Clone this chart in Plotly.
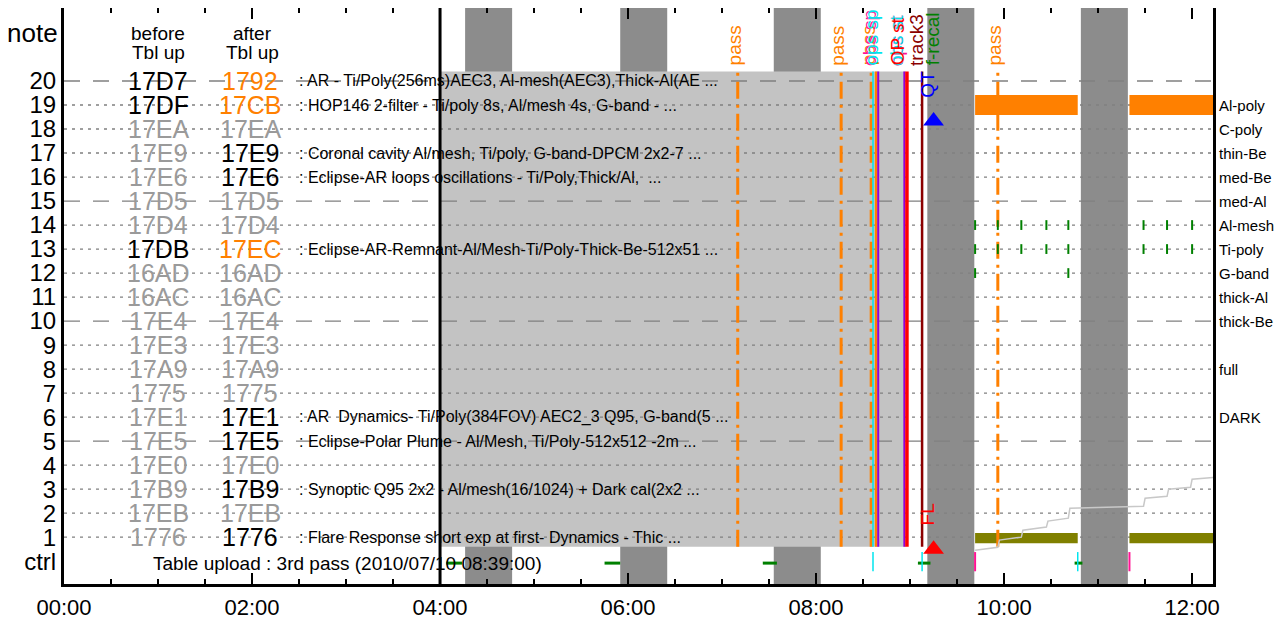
import plotly.graph_objects as go

DAY = "2010-07-10"


def ts(hm):
    if hm.count(":") == 1:
        hm = hm + ":00"
    return f"{DAY} {hm}"


# ---------------- data ----------------
x_range = ["00:00", "12:13:20"]
x_tick_times = ["00:00", "02:00", "04:00", "06:00", "08:00", "10:00", "12:00"]
y_range = [-0.95, 23.04]

rows = list(range(1, 21))
row_labels = ["ctrl"] + [str(r) for r in rows]

before_codes = ["1776", "17EB", "17B9", "17E0", "17E5", "17E1", "1775", "17A9", "17E3", "17E4",
                "16AC", "16AD", "17DB", "17D4", "17D5", "17E6", "17E9", "17EA", "17DF", "17D7"]
before_state = ["off", "off", "off", "off", "off", "off", "off", "off", "off", "off",
                "off", "off", "on", "off", "off", "off", "off", "off", "on", "on"]
after_codes = ["1776", "17EB", "17B9", "17E0", "17E5", "17E1", "1775", "17A9", "17E3", "17E4",
               "16AC", "16AD", "17EC", "17D4", "17D5", "17E6", "17E9", "17EA", "17CB", "1792"]
after_state = ["on", "off", "on", "off", "on", "on", "off", "off", "off", "off",
               "off", "off", "new", "off", "off", "on", "on", "off", "new", "new"]

header_before = ["before", "Tbl up"]
header_after = ["after", "Tbl up"]

desc_rows = [20, 19, 17, 16, 13, 6, 5, 3, 1]
desc_text = [
    ": AR - Ti/Poly(256ms)AEC3, Al-mesh(AEC3),Thick-Al(AE ...",
    ": HOP146 2-filter - Ti/poly 8s, Al/mesh 4s, G-band - ...",
    ": Coronal cavity Al/mesh, Ti/poly, G-band-DPCM 2x2-7 ...",
    ": Eclipse-AR loops oscillations - Ti/Poly,Thick/Al,  ...",
    ": Eclipse-AR-Remnant-Al/Mesh-Ti/Poly-Thick-Be-512x51 ...",
    ": AR  Dynamics- Ti/Poly(384FOV) AEC2_3 Q95, G-band(5 ...",
    ": Eclipse-Polar Plume - Al/Mesh, Ti/Poly-512x512 -2m ...",
    ": Synoptic Q95 2x2 - Al/mesh(16/1024) + Dark cal(2x2 ...",
    ": Flare Response short exp at first- Dynamics - Thic ...",
]

filter_rows = [19, 18, 17, 16, 15, 14, 13, 12, 11, 10, 8, 6]
filter_names = ["Al-poly", "C-poly", "thin-Be", "med-Be", "med-Al", "Al-mesh", "Ti-poly",
                "G-band", "thick-Al", "thick-Be", "full", "DARK"]

ctrl_text = "Table upload : 3rd pass (2010/07/10 08:39:00)"

# orbit night bands
night_start = ["04:16", "05:55", "07:33", "09:11", "10:49"]
night_end = ["04:46", "06:25", "08:03", "09:41", "11:19"]

# observation-plan period box
plan_start, plan_end = "04:00", "08:57"
plan_row_lo, plan_row_hi = 0.6, 20.4

upload_time = "04:00"

pass_times = ["07:10", "08:16", "08:35:10", "09:56"]

event_times = ["08:36:20", "08:38:20", "08:39:40", "08:56:20", "08:58:00", "09:07:40"]
event_kind = ["cyan", "upload", "purple", "purple", "red", "track"]

label_times = ["07:08", "08:14", "08:33:30", "08:34:30", "08:35:30",
               "08:51:00", "08:51:30", "08:52:00", "09:04:30", "09:14:00", "09:54"]
label_text = ["pass", "pass", "pass", "obs sp", "ops sp",
              "ops st", "obs st", "OP st", "track3", "f-recal", "pass"]
label_kind = ["pass", "pass", "pass", "magenta", "cyan",
              "magenta", "cyan", "red", "track", "green", "pass"]

qt_time, qt_row = "09:11:30", 19.2
fl_time, fl_row = "09:11:00", 1.42

alpoly_start = ["09:41:30", "11:20"]
alpoly_end = ["10:47", "12:13:20"]

tri_red = ("09:15", 0.5)
tri_blue = ("09:15", 18.33)

greentick_times = ["09:41:30", "09:56", "10:11", "10:27", "10:41", "11:29", "11:44", "12:00"]
greentick_rows_full = [14, 13]
greentick_times_g = ["09:41:30", "10:41"]
greentick_row_g = 12

ctrl_dash_start = ["04:04", "05:45", "07:26", "09:05", "10:45"]
ctrl_dash_end = ["04:14", "05:55", "07:35", "09:13", "10:50"]
ctrl_cyan = ["08:36:20", "09:07:40", "10:47"]
ctrl_pink = ["09:41:30", "11:20"]

step_times = ["09:41:30", "09:56", "09:57", "10:11", "10:12", "10:27", "10:28", "10:41",
              "10:42", "11:29", "11:30", "11:44", "11:45", "11:59", "12:00", "12:13:20"]
step_vals = [0.46, 0.58, 0.88, 1.0, 1.29, 1.42, 1.67, 1.79,
             2.21, 2.29, 2.62, 2.70, 3.0, 3.08, 3.41, 3.49]

# ---------------- styles ----------------
FONT = "Liberation Sans, Arial, Helvetica, sans-serif"
ORANGE = "#ff8000"
GREEN = "#008000"
state_color = {"on": "black", "off": "#9a9a9a", "new": ORANGE}
kind_color = {"pass": ORANGE, "cyan": "#00e5ee", "upload": ORANGE, "purple": "#9400d3",
              "red": "#ff0000", "track": "#8b0000", "magenta": "#ff1493", "green": GREEN}
kind_width = {"cyan": 1.5, "upload": 2.5, "purple": 2, "red": 3.5, "track": 2.5}

X0, X1 = ts(x_range[0]), ts(x_range[1])
Y0, Y1 = y_range

# all shapes reference the data axes so they are stacked in this exact order
shapes = []
for s, e in zip(night_start, night_end):
    shapes.append(dict(type="rect", xref="x", yref="y", x0=ts(s), x1=ts(e), y0=Y0, y1=Y1,
                       fillcolor="#8c8c8c", line=dict(width=0), layer="below"))
shapes.append(dict(type="rect", xref="x", yref="y", x0=ts(plan_start), x1=ts(plan_end),
                   y0=plan_row_lo, y1=plan_row_hi, fillcolor="#c3c3c3", line=dict(width=0),
                   layer="below"))
for r in rows:
    dash = "16px,13px" if r % 5 == 0 else "3px,5px"
    shapes.append(dict(type="line", xref="x", yref="y", x0=X0, x1=X1, y0=r, y1=r,
                       line=dict(color="#808080", width=1.3, dash=dash), layer="below"))
for s, e in zip(alpoly_start, alpoly_end):
    shapes.append(dict(type="rect", xref="x", yref="y", x0=ts(s), x1=ts(e), y0=18.58, y1=19.42,
                       fillcolor=ORANGE, line=dict(width=0), layer="below"))
    shapes.append(dict(type="rect", xref="x", yref="y", x0=ts(s), x1=ts(e), y0=0.75, y1=1.17,
                       fillcolor="#808000", line=dict(width=0), layer="below"))
shapes.append(dict(type="line", xref="x", yref="y", x0=ts(upload_time), x1=ts(upload_time),
                   y0=Y0, y1=Y1, line=dict(color="black", width=3), layer="below"))
for t in pass_times:
    shapes.append(dict(type="line", xref="x", yref="y", x0=ts(t), x1=ts(t),
                       y0=plan_row_lo, y1=plan_row_hi,
                       line=dict(color=ORANGE, width=3, dash="17px,6px,3px,6px"), layer="below"))
for t, k in zip(event_times, event_kind):
    shapes.append(dict(type="line", xref="x", yref="y", x0=ts(t), x1=ts(t),
                       y0=plan_row_lo, y1=plan_row_hi,
                       line=dict(color=kind_color[k], width=kind_width[k]), layer="below"))
for s, e in zip(ctrl_dash_start, ctrl_dash_end):
    shapes.append(dict(type="line", xref="x", yref="y", x0=ts(s), x1=ts(e), y0=-0.08, y1=-0.08,
                       line=dict(color=GREEN, width=3), layer="below"))
for t in ctrl_cyan:
    shapes.append(dict(type="line", xref="x", yref="y", x0=ts(t), x1=ts(t), y0=-0.42, y1=0.38,
                       line=dict(color="#00e5ee", width=1.5), layer="below"))
for t in ctrl_pink:
    shapes.append(dict(type="line", xref="x", yref="y", x0=ts(t), x1=ts(t), y0=-0.42, y1=0.38,
                       line=dict(color="#ff1493", width=2), layer="below"))

fig = go.Figure()

fig.add_trace(go.Scatter(x=[ts(t) for t in step_times], y=step_vals, mode="lines",
                         line=dict(color="#c8c8c8", width=1.5), hoverinfo="skip"))
gx, gy = [], []
for r in greentick_rows_full:
    for t in greentick_times:
        gx.append(ts(t))
        gy.append(r)
for t in greentick_times_g:
    gx.append(ts(t))
    gy.append(greentick_row_g)
fig.add_trace(go.Scatter(x=gx, y=gy, mode="markers",
                         marker=dict(symbol="line-ns-open", size=7, color=GREEN,
                                     line=dict(color=GREEN, width=2)), hoverinfo="skip"))
fig.add_trace(go.Scatter(x=[ts(tri_red[0])], y=[tri_red[1]], mode="markers",
                         marker=dict(symbol="triangle-up", size=18, color="#ff0000"),
                         hoverinfo="skip"))
fig.add_trace(go.Scatter(x=[ts(tri_blue[0])], y=[tri_blue[1]], mode="markers",
                         marker=dict(symbol="triangle-up", size=18, color="#0000ff"),
                         hoverinfo="skip"))

ann = []
for r, code, st in zip(rows, before_codes, before_state):
    ann.append(dict(x=ts("01:00"), y=r, text=code, showarrow=False, xanchor="center",
                    yanchor="middle", font=dict(size=25, color=state_color[st])))
for r, code, st in zip(rows, after_codes, after_state):
    ann.append(dict(x=ts("01:59"), y=r, text=code, showarrow=False, xanchor="center",
                    yanchor="middle", font=dict(size=25, color=state_color[st])))
for txt, yy in zip(header_before, [21.96, 21.17]):
    ann.append(dict(x=ts("01:00"), y=yy, text=txt, showarrow=False,
                    font=dict(size=19), xanchor="center", yanchor="middle"))
for txt, yy in zip(header_after, [21.96, 21.17]):
    ann.append(dict(x=ts("02:00"), y=yy, text=txt, showarrow=False,
                    font=dict(size=19), xanchor="center", yanchor="middle"))
for r, txt in zip(desc_rows, desc_text):
    ann.append(dict(x=ts("02:28:30"), y=r, text=txt.replace("  ", "&nbsp; "), showarrow=False,
                    xanchor="left", yanchor="middle", font=dict(size=16)))
for r, txt in zip(filter_rows, filter_names):
    ann.append(dict(xref="paper", x=1.0, xshift=4, y=r, text=txt, showarrow=False,
                    xanchor="left", yanchor="middle", font=dict(size=15)))
ann.append(dict(xref="paper", x=0, xshift=-4, y=22, text="note", showarrow=False,
                xanchor="right", yanchor="middle", font=dict(size=26)))
ann.append(dict(x=ts("03:01"), y=-0.08, text=ctrl_text, showarrow=False,
                xanchor="center", yanchor="middle", font=dict(size=19)))
for t, txt, k in zip(label_times, label_text, label_kind):
    ann.append(dict(x=ts(t), y=20.55, text=txt, showarrow=False, textangle=-90,
                    xanchor="center", yanchor="bottom", font=dict(size=19, color=kind_color[k])))
ann.append(dict(x=ts(qt_time), y=qt_row, text="QT", showarrow=False, textangle=-90,
                xanchor="center", yanchor="bottom", font=dict(size=19, color="#0000ff")))
ann.append(dict(x=ts(fl_time), y=fl_row, text="FL", showarrow=False, textangle=-90,
                xanchor="center", yanchor="bottom", font=dict(size=19, color="#ff0000")))

# page body has an 8px margin; size/margins compensate so the plot frame lands in place
fig.update_layout(
    width=1274, height=612,
    margin=dict(l=56, r=69, t=0, b=36, autoexpand=False),
    plot_bgcolor="white", paper_bgcolor="white",
    showlegend=False,
    font=dict(family=FONT, color="black"),
    shapes=shapes,
    annotations=ann,
    xaxis=dict(type="date", range=[X0, X1], automargin=False,
               tickvals=[ts(t) for t in x_tick_times], ticktext=x_tick_times,
               ticks="inside", ticklen=11, tickwidth=2, tickcolor="black",
               showline=True, linewidth=3, linecolor="black", mirror="allticks",
               showgrid=False, zeroline=False, tickfont=dict(size=22),
               ticklabelstandoff=2,
               minor=dict(tickmode="linear", tick0=ts("00:00"), dtick=30 * 60 * 1000,
                          ticks="inside", ticklen=5, tickwidth=2, tickcolor="black",
                          showgrid=False)),
    yaxis=dict(range=y_range, tickvals=list(range(0, 21)), ticktext=row_labels,
               automargin=False,
               ticks="", showline=True, linewidth=3, linecolor="black", mirror=True,
               showgrid=False, zeroline=False, tickfont=dict(size=24)),
)

fig.write_html("out.html")
